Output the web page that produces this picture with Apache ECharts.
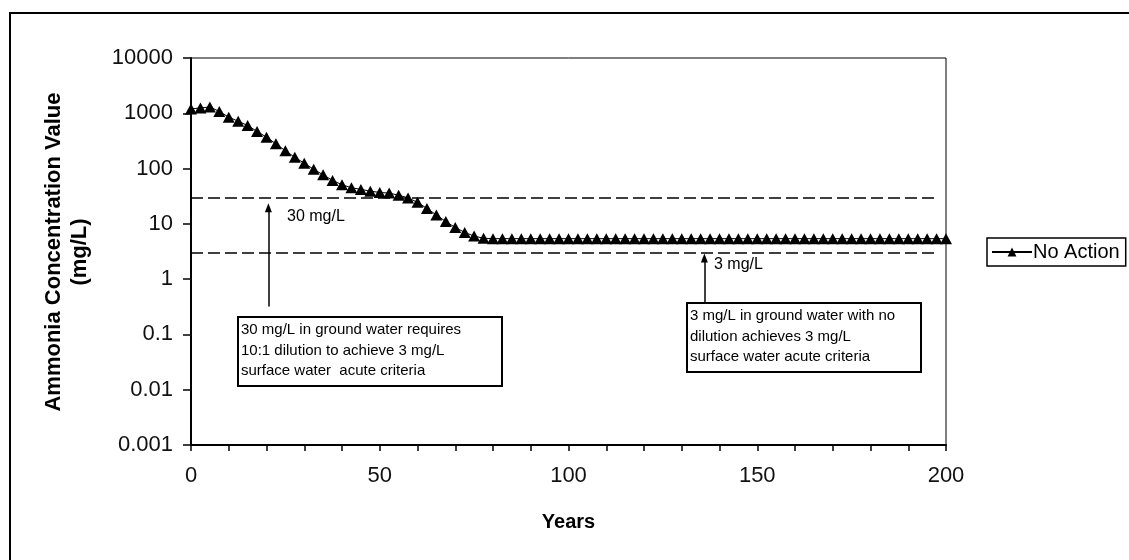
<!DOCTYPE html>
<html>
<head>
<meta charset="utf-8">
<title>Ammonia Concentration - No Action</title>
<script src="https://cdn.jsdelivr.net/npm/echarts@6/dist/echarts.min.js"></script>
<style>
  html, body { margin: 0; padding: 0; background: #fff; }
  #chart { width: 1129px; height: 560px; }
</style>
</head>
<body>
<div id="chart"></div>
<script>
// Modelled years (2.5-year steps)
const years = [
  0, 2.5, 5, 7.5, 10, 12.5, 15, 17.5, 20, 22.5,
  25, 27.5, 30, 32.5, 35, 37.5, 40, 42.5, 45, 47.5,
  50, 52.5, 55, 57.5, 60, 62.5, 65, 67.5, 70, 72.5,
  75, 77.5, 80, 82.5, 85, 87.5, 90, 92.5, 95, 97.5,
  100, 102.5, 105, 107.5, 110, 112.5, 115, 117.5, 120, 122.5,
  125, 127.5, 130, 132.5, 135, 137.5, 140, 142.5, 145, 147.5,
  150, 152.5, 155, 157.5, 160, 162.5, 165, 167.5, 170, 172.5,
  175, 177.5, 180, 182.5, 185, 187.5, 190, 192.5, 195, 197.5,
  200
];

// Ammonia concentration (mg/L), No Action scenario
const noAction = [
  1200, 1250, 1300, 1080, 850, 720, 600, 470, 370, 280,
  210, 160, 125, 97, 77, 61, 51, 45, 42, 39,
  37, 36, 33, 29.5, 24.5, 19, 14.5, 11, 8.6, 7,
  6, 5.5, 5.4, 5.4, 5.4, 5.4, 5.4, 5.4, 5.4, 5.4,
  5.4, 5.4, 5.4, 5.4, 5.4, 5.4, 5.4, 5.4, 5.4, 5.4,
  5.4, 5.4, 5.4, 5.4, 5.4, 5.4, 5.4, 5.4, 5.4, 5.4,
  5.4, 5.4, 5.4, 5.4, 5.4, 5.4, 5.4, 5.4, 5.4, 5.4,
  5.4, 5.4, 5.4, 5.4, 5.4, 5.4, 5.4, 5.4, 5.4, 5.4,
  5.4
];

// Criteria lines (mg/L) and their horizontal extent (years)
const groundWaterCriterion = 30;
const surfaceWaterCriterion = 3;
const criteriaSpan = [0, 197];

// Arrows: [year, from value, to value]
const arrow30 = [20.5, 0.32, 19.5];
const arrow3 = [136, 0.37, 2.4];

const yTickLabels = ['0.001', '0.01', '0.1', '1', '10', '100', '1000', '10000'];
const xTickLabels = ['0', '50', '100', '150', '200'];

const seriesData = years.map((y, i) => [y, noAction[i]]);

const chart = echarts.init(document.getElementById('chart'), null, { renderer: 'canvas' });

const FONT = "'Liberation Sans', Arial, sans-serif";
const dashStyle = { color: '#000', width: 1.6, type: [12, 5] };

chart.setOption({
  backgroundColor: '#fff',
  animation: false,
  grid: {
    left: 191, top: 58, right: 183, bottom: 115,
    show: true, borderColor: '#000', borderWidth: 1, backgroundColor: 'transparent'
  },
  legend: {
    data: ['No Action'],
    left: 987, top: 238,
    orient: 'vertical',
    borderColor: '#000', borderWidth: 1.5,
    padding: [4, 6, 4, 4],
    itemWidth: 40, itemHeight: 11,
    itemGap: 0,
    textStyle: { fontFamily: FONT, fontSize: 20, color: '#000', padding: [0, 0, 0, -4] }
  },
  xAxis: {
    type: 'value',
    min: 0, max: 200, interval: 10,
    name: 'Years',
    nameLocation: 'middle',
    nameGap: 67,
    nameTextStyle: { fontFamily: FONT, fontSize: 20, fontWeight: 'bold', color: '#000' },
    axisLine: { onZero: false, lineStyle: { color: '#000', width: 2 } },
    axisTick: { length: 6, lineStyle: { color: '#000', width: 1.5 } },
    axisLabel: {
      margin: 20,
      fontFamily: FONT, fontSize: 22, color: '#111',
      formatter: v => (v % 50 === 0 ? xTickLabels[v / 50] : '')
    },
    splitLine: { show: false }
  },
  yAxis: {
    type: 'log',
    logBase: 10,
    min: 0.001, max: 10000,
    axisLine: { show: true, lineStyle: { color: '#000', width: 2 } },
    axisTick: { show: true, length: 8, lineStyle: { color: '#000', width: 1.5 } },
    axisLabel: {
      margin: 18,
      fontFamily: FONT, fontSize: 22, color: '#111',
      formatter: v => yTickLabels[Math.round(Math.log10(v)) + 3]
    },
    splitLine: { show: false }
  },
  series: [
    {
      name: 'No Action',
      type: 'line',
      data: seriesData,
      symbol: 'triangle',
      symbolSize: [12, 11],
      showAllSymbol: true,
      lineStyle: { color: '#000', width: 1 },
      itemStyle: { color: '#000' },
      z: 5
    },
    {
      name: 'criteria',
      type: 'line',
      data: [],
      silent: true,
      markLine: {
        silent: true,
        symbol: 'none',
        label: { show: false },
        lineStyle: dashStyle,
        data: [
          [{ coord: [criteriaSpan[0], groundWaterCriterion] }, { coord: [criteriaSpan[1], groundWaterCriterion] }],
          [{ coord: [criteriaSpan[0], surfaceWaterCriterion] }, { coord: [criteriaSpan[1], surfaceWaterCriterion] }]
        ]
      }
    },
    {
      name: 'arrows',
      type: 'line',
      data: [],
      silent: true,
      markLine: {
        silent: true,
        symbol: ['none', 'triangle'],
        symbolSize: [7, 9],
        label: { show: false },
        lineStyle: { color: '#000', width: 1.5, type: 'solid' },
        data: [
          [{ coord: [arrow30[0], arrow30[1]] }, { coord: [arrow30[0], arrow30[2]] }],
          [{ coord: [arrow3[0], arrow3[1]] }, { coord: [arrow3[0], arrow3[2]] }]
        ]
      }
    }
  ],
  graphic: [
    {
      type: 'rect', silent: true, z: -1,
      shape: { x: 10, y: 13, width: 1200, height: 600 },
      style: { fill: 'none', stroke: '#000', lineWidth: 2 }
    },
    {
      type: 'text', silent: true,
      x: 54, y: 252, rotation: Math.PI / 2,
      style: {
        text: 'Ammonia Concentration Value',
        font: "bold 22px 'Liberation Sans', Arial, sans-serif",
        fill: '#000', align: 'center', verticalAlign: 'middle'
      }
    },
    {
      type: 'text', silent: true,
      x: 80, y: 252, rotation: Math.PI / 2,
      style: {
        text: '(mg/L)',
        font: "bold 22px 'Liberation Sans', Arial, sans-serif",
        fill: '#000', align: 'center', verticalAlign: 'middle'
      }
    },
    {
      type: 'text', silent: true,
      x: 287, y: 217,
      style: {
        text: '30 mg/L', font: "16px 'Liberation Sans', Arial, sans-serif",
        fill: '#000', align: 'left', verticalAlign: 'middle'
      }
    },
    {
      type: 'text', silent: true,
      x: 714, y: 265,
      style: {
        text: '3 mg/L', font: "16px 'Liberation Sans', Arial, sans-serif",
        fill: '#000', align: 'left', verticalAlign: 'middle'
      }
    },
    {
      type: 'group', x: 238, y: 317,
      children: [
        {
          type: 'rect', silent: true,
          shape: { x: 0, y: 0, width: 264, height: 69 },
          style: { fill: '#fff', stroke: '#000', lineWidth: 2 }
        },
        {
          type: 'text', silent: true, x: 3, y: 3,
          style: {
            text: '30 mg/L in ground water requires\n10:1 dilution to achieve 3 mg/L\nsurface water  acute criteria',
            font: "15px 'Liberation Sans', Arial, sans-serif",
            lineHeight: 20.5, fill: '#000', align: 'left', verticalAlign: 'top'
          }
        }
      ]
    },
    {
      type: 'group', x: 687, y: 303,
      children: [
        {
          type: 'rect', silent: true,
          shape: { x: 0, y: 0, width: 234, height: 69 },
          style: { fill: '#fff', stroke: '#000', lineWidth: 2 }
        },
        {
          type: 'text', silent: true, x: 3, y: 3,
          style: {
            text: '3 mg/L in ground water with no\ndilution achieves 3 mg/L\nsurface water acute criteria',
            font: "15px 'Liberation Sans', Arial, sans-serif",
            lineHeight: 20.5, fill: '#000', align: 'left', verticalAlign: 'top'
          }
        }
      ]
    }
  ]
});
</script>
</body>
</html>
